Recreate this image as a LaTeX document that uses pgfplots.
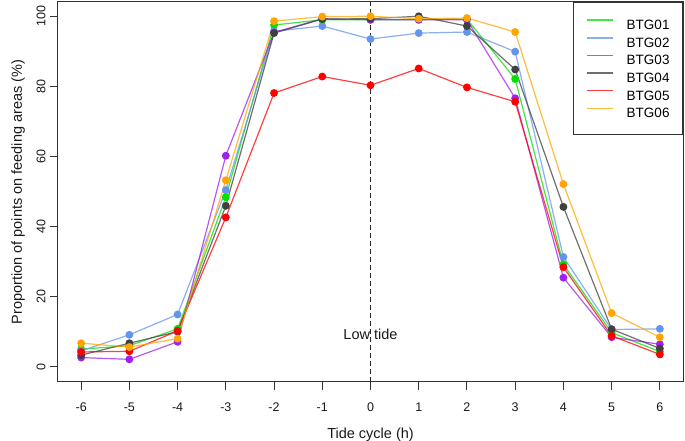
\documentclass[border=0pt]{standalone}
\usepackage{fontspec}
\setmainfont{Liberation Sans}
\usepackage{pgfplots}
\pgfplotsset{compat=1.18}
\usepackage{pgfplotstable}
\definecolor{cg}{RGB}{0,225,0}
\definecolor{cb}{RGB}{100,149,237}
\definecolor{cp}{RGB}{160,32,240}
\definecolor{cd}{RGB}{64,64,64}
\definecolor{cr}{RGB}{255,0,0}
\definecolor{co}{RGB}{255,165,0}
\pgfplotstableread{
x  b1    b2    b3    b4    b5    b6
-6 5.0   4.5   2.6   3.3   4.2   6.7
-5 6.0   9.1   2.1   6.7   4.4   5.6
-4 10.8  14.9  7.1   10.0  10.2  8.0
-3 48.4  50.4  60.2  45.9  42.6  53.2
-2 97.5  95.7  95.4  95.2  78.1  98.6
-1 99.0  97.2  99.3  99.2  82.8  99.9
0  99.0  93.5  99.0  99.3  80.3  100.0
1  99.0  95.2  99.0  100.0 85.1  99.3
2  99.2  95.5  99.0  97.2  79.7  99.5
3  82.1  89.9  76.6  84.8  75.6  95.5
4  29.2  31.3  25.4  45.6  28.4  52.1
5  9.7   10.6  8.4   10.7  8.8   15.3
6  4.3   10.8  6.4   5.2   3.5   8.4
}\data
\begin{document}
\begin{tikzpicture}[x=1pt,y=1pt]
\useasboundingbox (-58,-59) rectangle (627,382);
\begin{axis}[
  at={(0,0)}, anchor=south west,
  scale only axis, width=625pt, height=380pt,
  xmin=-6.48, xmax=6.48, ymin=-4.37, ymax=104.07,
  xtick={-6,...,6}, ytick={0,20,...,100},
  tick pos=left, tick align=outside, major tick length=8pt,
  axis line style={draw=black!80, line width=1pt},
  every tick/.style={black!80, line width=1pt},
  /pgf/number format/assume math mode=true,
  tick label style={font=\fontsize{12.5}{14}\selectfont, text=black!90},
  yticklabel style={rotate=90, anchor=south, yshift=1pt},
  xticklabel style={yshift=-9pt},
  xlabel={Tide cycle (h)},
  ylabel={Proportion of points on feeding areas (\%)},
  label style={font=\fontsize{14.5}{17}\selectfont, text=black!90},
  xlabel style={at={(axis description cs:0.5,0)}, anchor=center, yshift=-53pt},
  ylabel style={at={(axis description cs:-0.064,0.5)}, anchor=center},
  legend style={at={(1,1)}, anchor=north east, draw=black!80, line width=1pt,
    inner xsep=13pt, inner ysep=17pt, row sep=7.5pt,
    font=\fontsize{13.5}{16}\selectfont,
    nodes={inner sep=0pt, text height=9.7pt, text depth=0pt}},
  legend cell align=left,
  clip=false,
  every axis plot/.append style={line width=1.2pt, draw opacity=0.75, mark=*, mark size=3.3pt},
]
\addplot[black!85, dashed, line width=1pt, draw opacity=1, mark=none, dash pattern=on 5pt off 3pt, forget plot] coordinates {(0,-4.37) (0,104.07)};
\addplot[color=cg, mark options={draw opacity=1, fill opacity=1, fill=cg, draw=cg},
  legend image code/.code={\draw[cg, line width=1.4pt, draw opacity=0.75] (4pt,4.6pt) -- (30pt,4.6pt); \path (43pt,0pt);}] table[x=x,y=b1]{\data};
\addlegendentry{BTG01}
\addplot[color=cb, mark options={draw opacity=1, fill opacity=1, fill=cb, draw=cb},
  legend image code/.code={\draw[cb, line width=1.4pt, draw opacity=0.75] (4pt,4.6pt) -- (30pt,4.6pt); \path (43pt,0pt);}] table[x=x,y=b2]{\data};
\addlegendentry{BTG02}
\addplot[color=cp, mark options={draw opacity=1, fill opacity=1, fill=cp, draw=cp},
  legend image code/.code={\draw[cp, line width=1.4pt, draw opacity=0.75] (4pt,4.6pt) -- (30pt,4.6pt); \path (43pt,0pt);}] table[x=x,y=b3]{\data};
\addlegendentry{BTG03}
\addplot[color=cd, mark options={draw opacity=1, fill opacity=1, fill=cd, draw=cd},
  legend image code/.code={\draw[cd, line width=1.4pt, draw opacity=0.75] (4pt,4.6pt) -- (30pt,4.6pt); \path (43pt,0pt);}] table[x=x,y=b4]{\data};
\addlegendentry{BTG04}
\addplot[color=cr, mark options={draw opacity=1, fill opacity=1, fill=cr, draw=cr},
  legend image code/.code={\draw[cr, line width=1.4pt, draw opacity=0.75] (4pt,4.6pt) -- (30pt,4.6pt); \path (43pt,0pt);}] table[x=x,y=b5]{\data};
\addlegendentry{BTG05}
\addplot[color=co, mark options={draw opacity=1, fill opacity=1, fill=co, draw=co},
  legend image code/.code={\draw[co, line width=1.4pt, draw opacity=0.75] (4pt,4.6pt) -- (30pt,4.6pt); \path (43pt,0pt);}] table[x=x,y=b6]{\data};
\addlegendentry{BTG06}
\node[font=\fontsize{14.5}{17}\selectfont, text=black!90] at (axis cs:0,9.3) {Low tide};
\end{axis}
\end{tikzpicture}
\end{document}
